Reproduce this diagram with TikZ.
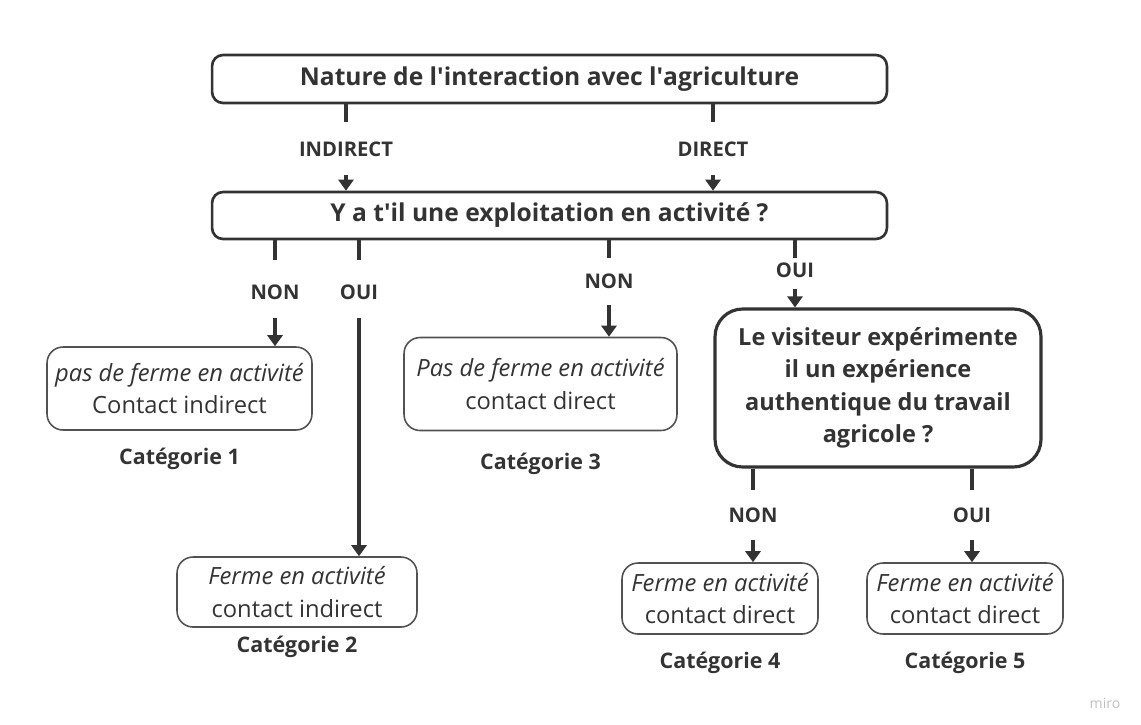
\documentclass[tikz,border=0pt]{standalone}
\usepackage{fontspec}
\setmainfont{Open Sans}
\usetikzlibrary{positioning, arrows.meta}
\definecolor{ink}{HTML}{333333}
\tikzset{question/.style={draw=ink, line width=1.5pt, rounded corners=0.22cm, text=ink, font=\bfseries\fontsize{14}{16}\selectfont},
	decision/.style={draw=ink, line width=1.8pt, rounded corners=0.55cm, text=ink, align=center, font=\bfseries\fontsize{13.4}{18.5}\selectfont},
	result/.style={draw=ink!85, line width=0.9pt, rounded corners=0.32cm, text=ink, align=center, font=\fontsize{13.5}{18.5}\selectfont},
	branch/.style={inner sep=0pt, text=ink, font=\bfseries\fontsize{11.5}{13}\selectfont},
	category/.style={inner sep=0pt, text=ink, font=\bfseries\fontsize{12.2}{14}\selectfont},
	stub/.style={draw=ink, line width=2.2pt},
	flow/.style={draw=ink, line width=2.2pt, -{Triangle[width=0.3cm, length=0.22cm]}},}

\begin{document}
\begin{tikzpicture}[x=0.02cm, y=-0.02cm]
			\useasboundingbox (0,0) rectangle (1141,724);
			% Questions
			\node[question, minimum width=13.5cm, minimum height=0.96cm] (nature) at (549.5,79) {Nature de l\textquotesingle interaction avec l\textquotesingle agriculture};
			\node[question, minimum width=13.5cm, minimum height=0.94cm] (exploit) at (549.5,215.5) {Y a t\textquotesingle il une exploitation en activité ?};
			\node[decision, minimum width=6.52cm, minimum height=3.16cm] (visite) at (878,388) {Le visiteur expérimente\\il un expérience\\authentique du travail\\agricole ?};

			% Categories
			\node[result, minimum width=5.3cm, minimum height=1.66cm] (cat1) at (179.5,388.5) {\textit{pas de ferme en activité}\\Contact indirect};
			\node[result, minimum width=4.8cm, minimum height=1.4cm] (cat2) at (297,592) {\textit{Ferme en activité}\\contact indirect};
			\node[result, minimum width=5.46cm, minimum height=1.86cm] (cat3) at (540.5,384) {\textit{Pas de ferme en activité}\\contact direct};
			\node[result, minimum width=3.92cm, minimum height=1.42cm] (cat4) at (720,598.5) {\textit{Ferme en activité}\\contact direct};
			\node[result, minimum width=3.92cm, minimum height=1.42cm] (cat5) at (965,598.5) {\textit{Ferme en activité}\\contact direct};
			\node[category] [below = 0.33cm of cat1] (lab1) {Catégorie 1};
			\node[category] [below = 0.15cm of cat2] (lab2) {Catégorie 2};
			\node[category] [below = 0.43cm of cat3] (lab3) {Catégorie 3};
			\node[category] [below = 0.34cm of cat4] (lab4) {Catégorie 4};
			\node[category] [below = 0.34cm of cat5] (lab5) {Catégorie 5};

			% Branch labels
			\node[branch] (ind) at (346,149) {INDIRECT};
			\node[branch] (dir) at (713,149) {DIRECT};
			\node[branch] (non1) at (275,292) {NON};
			\node[branch] (oui1) at (359,292) {OUI};
			\node[branch] (non3) at (609,281) {NON};
			\node[branch] (oui4) at (795,270) {OUI};
			\node[branch] (nonb) at (753,515) {NON};
			\node[branch] (ouib) at (972,515) {OUI};

			% Stubs
			\draw[stub, shorten >=0.38cm] (ind |- nature.south) -- (ind);
			\draw[stub, shorten >=0.38cm] (dir |- nature.south) -- (dir);
			\draw[stub, shorten >=0.48cm] (non1 |- exploit.south) -- (non1);
			\draw[stub, shorten >=0.48cm] (oui1 |- exploit.south) -- (oui1);
			\draw[stub, shorten >=0.3cm] (non3 |- exploit.south) -- (non3);
			\draw[stub, shorten >=0.08cm] (oui4 |- exploit.south) -- (oui4);
			\draw[stub, shorten >=0.34cm] (nonb |- visite.south) -- (nonb);
			\draw[stub, shorten >=0.34cm] (ouib |- visite.south) -- (ouib);

			% Arrows
			\draw[flow, shorten <=0.36cm] (ind) -- (ind |- exploit.north);
			\draw[flow, shorten <=0.36cm] (dir) -- (dir |- exploit.north);
			\draw[flow, shorten <=0.36cm] (non1) -- (non1 |- cat1.north);
			\draw[flow, shorten <=0.36cm] (oui1) -- (oui1 |- cat2.north);
			\draw[flow, shorten <=0.32cm] (non3) -- (non3 |- cat3.north);
			\draw[flow, shorten <=0.22cm] (oui4) -- (oui4 |- visite.north);
			\draw[flow, shorten <=0.34cm] (nonb) -- (nonb |- cat4.north);
			\draw[flow, shorten <=0.34cm] (ouib) -- (ouib |- cat5.north);

			\node[text=black!25, font=\fontsize{8}{10}\selectfont] (miro) at (1105,703) {miro};
		\end{tikzpicture}
\end{document}
